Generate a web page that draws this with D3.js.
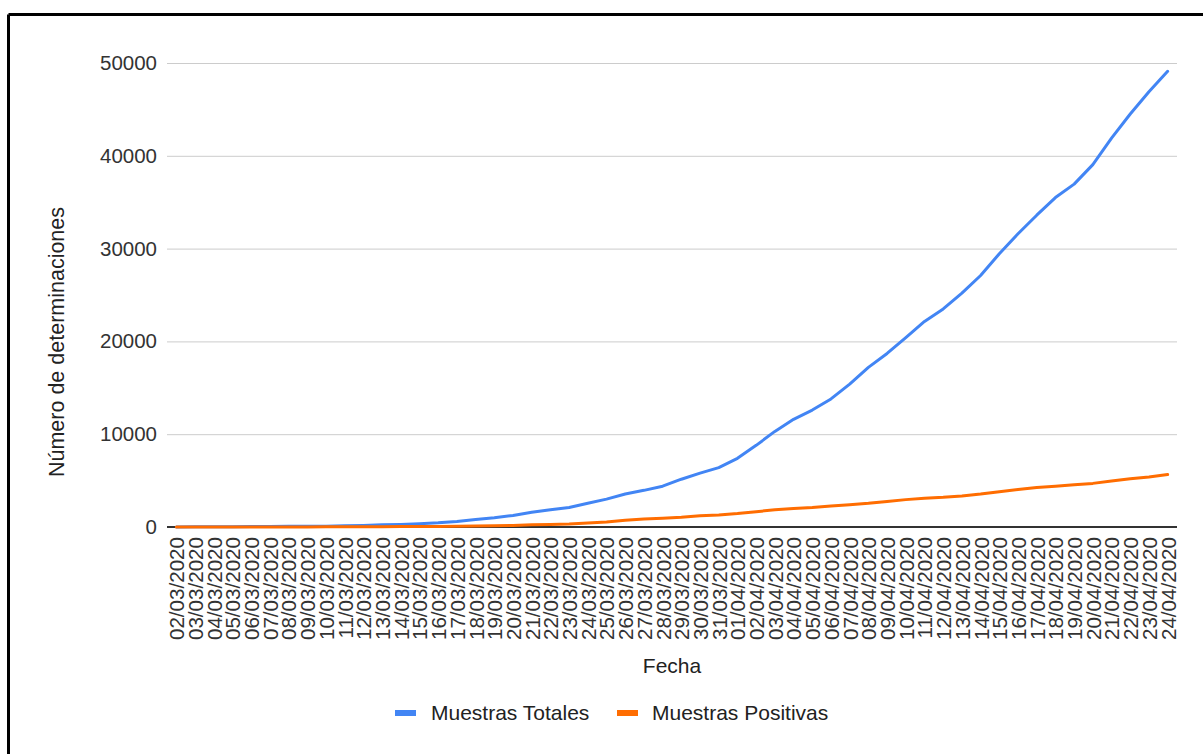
<!DOCTYPE html>
<html>
<head>
<meta charset="utf-8">
<script src="https://cdn.jsdelivr.net/npm/d3@7"></script>
<style>
  html, body { margin: 0; padding: 0; background: #fff; }
  svg { display: block; font-family: "Liberation Sans", Arial, sans-serif; }
</style>
</head>
<body>
<svg id="chart" width="1203" height="754"></svg>
<script>
const fechas = [
  "02/03/2020","03/03/2020","04/03/2020","05/03/2020","06/03/2020","07/03/2020","08/03/2020","09/03/2020","10/03/2020","11/03/2020",
  "12/03/2020","13/03/2020","14/03/2020","15/03/2020","16/03/2020","17/03/2020","18/03/2020","19/03/2020","20/03/2020","21/03/2020",
  "22/03/2020","23/03/2020","24/03/2020","25/03/2020","26/03/2020","27/03/2020","28/03/2020","29/03/2020","30/03/2020","31/03/2020",
  "01/04/2020","02/04/2020","03/04/2020","04/04/2020","05/04/2020","06/04/2020","07/04/2020","08/04/2020","09/04/2020","10/04/2020",
  "11/04/2020","12/04/2020","13/04/2020","14/04/2020","15/04/2020","16/04/2020","17/04/2020","18/04/2020","19/04/2020","20/04/2020",
  "21/04/2020","22/04/2020","23/04/2020","24/04/2020"
];
const muestrasTotales = [
  10, 20, 30, 40, 50, 60, 70, 80, 90, 130,
  170, 230, 280, 350, 450, 600, 800, 1000, 1250, 1600,
  1850, 2100, 2550, 3000, 3550, 3950, 4400, 5150, 5800, 6400,
  7400, 8800, 10300, 11600, 12600, 13800, 15400, 17200, 18700, 20400,
  22150, 23500, 25200, 27100, 29450, 31600, 33600, 35500, 36950, 39050,
  41900, 44500, 46900, 49100
];
const muestrasPositivas = [
  1, 2, 3, 5, 7, 9, 10, 12, 15, 20,
  30, 35, 45, 55, 65, 80, 100, 130, 160, 230,
  280, 320, 420, 550, 730, 860, 950, 1050, 1200, 1300,
  1450, 1650, 1850, 2000, 2100, 2250, 2400, 2550, 2750, 2950,
  3100, 3200, 3350, 3550, 3800, 4050, 4250, 4400, 4550, 4700,
  4950, 5200, 5400, 5650
];
const yTicks = [0, 10000, 20000, 30000, 40000, 50000];
const seriesNames = ["Muestras Totales", "Muestras Positivas"];
const seriesColors = ["#4285F4", "#FF6D01"];

const svg = d3.select("#chart");
const plotLeft = 167, plotRight = 1177, plotTop = 63, plotBottom = 527;
const FONT = '"Liberation Sans", Arial, sans-serif';

// frame
svg.append("line").attr("x1", 8.5).attr("x2", 8.5).attr("y1", 14.5).attr("y2", 754)
  .attr("stroke", "#000").attr("stroke-width", 3);
svg.append("line").attr("x1", 8.5).attr("x2", 1203).attr("y1", 14.5).attr("y2", 14.5)
  .attr("stroke", "#000").attr("stroke-width", 3);

const x = d3.scalePoint().domain(fechas).range([plotLeft, plotRight]).padding(0.5);
const y = d3.scaleLinear().domain([0, 50000]).range([plotBottom, plotTop]);

// gridlines + y labels
const yAxis = d3.axisLeft(y).tickValues(yTicks).tickSize(-(plotRight - plotLeft)).tickPadding(10).tickFormat(d3.format("d"));
const gy = svg.append("g").attr("transform", `translate(${plotLeft},0)`).call(yAxis);
gy.select(".domain").remove();
gy.selectAll(".tick line").attr("stroke", "#cccccc").attr("stroke-width", 1);
gy.selectAll(".tick text").attr("font-size", 20.5).attr("fill", "#333").attr("font-family", FONT);

// baseline
svg.append("line").attr("x1", plotLeft).attr("x2", plotRight).attr("y1", y(0)).attr("y2", y(0))
  .attr("stroke", "#333").attr("stroke-width", 2);

// x axis labels
const xAxis = d3.axisBottom(x).tickSize(0).tickPadding(0);
const gx = svg.append("g").attr("transform", `translate(0,${plotBottom})`).call(xAxis);
gx.select(".domain").remove();
gx.selectAll(".tick text")
  .attr("font-size", 20.6).attr("fill", "#333").attr("font-family", FONT)
  .attr("text-anchor", "end")
  .attr("transform", "rotate(-90)")
  .attr("x", -10).attr("y", 0).attr("dy", "0.36em");

// lines
const seriesData = [muestrasTotales, muestrasPositivas];
const line = d3.line().x((d, i) => x(fechas[i])).y(d => y(d));
seriesData.forEach((s, k) => {
  svg.append("path").datum(s).attr("d", line)
    .attr("fill", "none").attr("stroke", seriesColors[k]).attr("stroke-width", 3)
    .attr("stroke-linejoin", "round").attr("stroke-linecap", "round");
});

// axis titles
svg.append("text").attr("x", 672).attr("y", 673).attr("text-anchor", "middle")
  .attr("font-size", 21).attr("fill", "#222").text("Fecha");
svg.append("text").attr("transform", "translate(64,342) rotate(-90)").attr("text-anchor", "middle")
  .attr("font-size", 21.5).attr("fill", "#222").text("Número de determinaciones");

// legend
const legendPos = [[395, 431], [617, 652]];
seriesNames.forEach((n, k) => {
  svg.append("rect").attr("x", legendPos[k][0]).attr("y", 710).attr("width", 21).attr("height", 6)
    .attr("fill", seriesColors[k]);
  svg.append("text").attr("x", legendPos[k][1]).attr("y", 720).attr("font-size", 21)
    .attr("fill", "#222").text(n);
});
</script>
</body>
</html>
